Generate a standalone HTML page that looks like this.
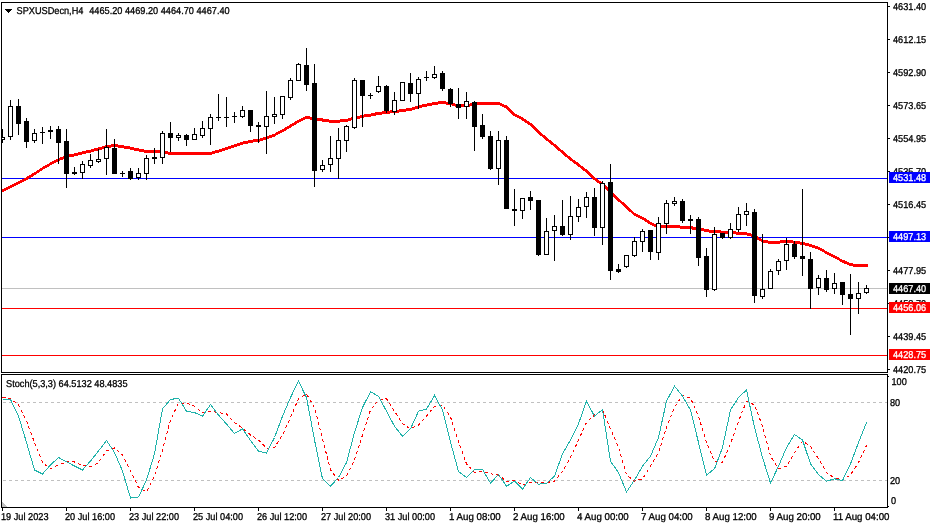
<!DOCTYPE html><html><head><meta charset="utf-8"><title>SPXUSDecn,H4</title><style>
html,body{margin:0;padding:0;background:#fff;overflow:hidden}svg{display:block}text{font-family:"Liberation Sans",sans-serif;font-size:10px;fill:#000;stroke:#000;stroke-width:0.3px}
.w{fill:#fff}</style></head><body>
<svg width="933" height="528" viewBox="0 0 933 528">
<rect width="933" height="528" fill="#fff"/>
<g shape-rendering="crispEdges">
<rect x="2" y="288" width="885" height="1" fill="#c0c0c0"/>
<rect x="2" y="178" width="886" height="1" fill="#00f"/>
<rect x="2" y="237" width="886" height="1" fill="#00f"/>
<rect x="2" y="308" width="886" height="1" fill="#f00"/>
<rect x="2" y="355" width="886" height="1" fill="#f00"/>
<path d="M2 189h2v3h-2zM4 188h2v3h-2zM6 187h2v3h-2zM8 186h2v3h-2zM10 185h2v3h-2zM12 184h2v3h-2zM14 183h2v3h-2zM16 182h2v3h-2zM18 181h2v3h-2zM20 180h2v3h-2zM22 179h2v3h-2zM24 178h2v3h-2zM26 177h1v3h-1zM27 176h1v4h-1zM28 176h1v3h-1zM29 175h2v3h-2zM31 174h1v3h-1zM32 173h1v4h-1zM33 173h1v3h-1zM34 172h2v3h-2zM36 171h1v3h-1zM37 170h2v3h-2zM39 169h1v3h-1zM40 168h2v3h-2zM42 167h1v3h-1zM43 166h2v3h-2zM45 165h2v3h-2zM47 164h2v3h-2zM49 163h1v3h-1zM50 162h2v3h-2zM52 161h2v3h-2zM54 160h2v3h-2zM56 159h2v3h-2zM58 158h2v3h-2zM60 157h3v3h-3zM63 156h2v3h-2zM65 155h4v3h-4zM69 154h5v3h-5zM74 153h4v3h-4zM78 152h4v3h-4zM82 151h4v3h-4zM86 150h5v3h-5zM91 149h3v3h-3zM94 148h4v3h-4zM98 147h4v3h-4zM102 146h3v3h-3zM105 145h6v3h-6zM111 144h7v3h-7zM118 145h6v3h-6zM124 146h6v3h-6zM130 147h4v3h-4zM134 148h5v3h-5zM139 149h5v3h-5zM144 150h10v3h-10zM154 150h1v4h-1zM155 150h9v3h-9zM164 151h4v3h-4zM168 152h44v3h-44zM212 151h3v3h-3zM215 150h4v3h-4zM219 149h3v3h-3zM222 148h3v3h-3zM225 147h3v3h-3zM228 146h3v3h-3zM231 145h3v3h-3zM234 144h3v3h-3zM237 143h3v3h-3zM240 142h3v3h-3zM243 141h5v3h-5zM248 140h5v3h-5zM253 139h7v3h-7zM260 138h3v3h-3zM263 137h3v3h-3zM266 136h1v4h-1zM267 136h2v3h-2zM269 135h3v3h-3zM272 134h3v3h-3zM275 133h1v3h-1zM276 132h2v3h-2zM278 131h2v3h-2zM280 130h2v3h-2zM282 129h2v3h-2zM284 128h1v3h-1zM285 127h1v4h-1zM286 127h1v3h-1zM287 126h2v3h-2zM289 125h1v3h-1zM290 124h1v4h-1zM291 124h1v3h-1zM292 123h2v3h-2zM294 122h1v3h-1zM295 121h1v4h-1zM296 121h1v3h-1zM297 120h2v3h-2zM299 119h2v3h-2zM301 118h2v3h-2zM303 117h2v3h-2zM305 116h5v3h-5zM310 117h6v3h-6zM316 118h6v3h-6zM322 118h1v4h-1zM323 119h6v3h-6zM329 120h11v3h-11zM340 119h8v3h-8zM348 118h3v3h-3zM351 117h4v3h-4zM355 116h5v3h-5zM360 115h4v3h-4zM364 114h7v3h-7zM371 113h4v3h-4zM375 112h1v4h-1zM376 112h6v3h-6zM382 111h8v3h-8zM390 110h9v3h-9zM399 109h7v3h-7zM406 108h6v3h-6zM412 107h3v3h-3zM415 106h3v3h-3zM418 105h4v3h-4zM422 104h5v3h-5zM427 103h5v3h-5zM432 102h6v3h-6zM438 101h8v3h-8zM446 102h6v3h-6zM452 103h3v3h-3zM455 104h11v3h-11zM466 104h1v4h-1zM467 104h3v3h-3zM470 103h3v3h-3zM473 102h27v3h-27zM500 103h2v3h-2zM502 104h2v3h-2zM504 105h2v3h-2zM506 105h1v4h-1zM507 106h1v4h-1zM508 107h1v4h-1zM509 108h1v4h-1zM510 109h1v4h-1zM511 110h1v4h-1zM512 111h1v4h-1zM513 112h1v4h-1zM514 113h1v3h-1zM515 114h2v3h-2zM517 115h2v3h-2zM519 116h2v3h-2zM521 117h1v3h-1zM522 117h1v4h-1zM523 118h1v3h-1zM524 119h1v3h-1zM525 119h1v4h-1zM526 120h1v3h-1zM527 121h1v3h-1zM528 121h1v4h-1zM529 122h1v3h-1zM530 123h1v3h-1zM531 123h1v4h-1zM532 124h1v4h-1zM533 125h1v4h-1zM534 126h1v4h-1zM535 127h1v4h-1zM536 128h1v4h-1zM537 129h1v4h-1zM538 130h1v4h-1zM539 131h1v4h-1zM540 132h1v4h-1zM541 133h1v3h-1zM542 134h1v3h-1zM543 135h1v3h-1zM544 135h1v4h-1zM545 136h1v4h-1zM546 137h1v4h-1zM547 138h1v3h-1zM548 139h1v3h-1zM549 140h1v3h-1zM550 140h1v4h-1zM551 141h1v4h-1zM552 142h1v3h-1zM553 143h1v3h-1zM554 144h1v3h-1zM555 144h1v4h-1zM556 145h1v4h-1zM557 146h1v4h-1zM558 147h1v4h-1zM559 148h1v3h-1zM560 149h1v3h-1zM561 150h1v3h-1zM562 150h1v4h-1zM563 151h1v4h-1zM564 152h1v4h-1zM565 153h1v4h-1zM566 154h1v3h-1zM567 155h1v3h-1zM568 156h1v3h-1zM569 156h1v4h-1zM570 157h1v4h-1zM571 158h1v3h-1zM572 159h1v3h-1zM573 160h1v3h-1zM574 160h1v4h-1zM575 161h1v3h-1zM576 162h1v3h-1zM577 162h1v4h-1zM578 163h1v4h-1zM579 164h1v3h-1zM580 165h1v3h-1zM581 166h1v3h-1zM582 166h1v4h-1zM583 167h1v4h-1zM584 168h1v3h-1zM585 169h1v3h-1zM586 169h1v4h-1zM587 170h1v4h-1zM588 171h1v4h-1zM589 172h1v4h-1zM590 173h1v4h-1zM591 174h1v4h-1zM592 175h1v4h-1zM593 176h1v4h-1zM594 177h1v3h-1zM595 178h1v3h-1zM596 178h1v4h-1zM597 179h1v4h-1zM598 180h1v3h-1zM599 181h1v3h-1zM600 181h1v4h-1zM601 182h1v4h-1zM602 183h1v3h-1zM603 184h1v3h-1zM604 185h1v3h-1zM605 185h1v4h-1zM606 186h1v4h-1zM607 187h1v4h-1zM608 188h1v4h-1zM609 189h1v4h-1zM610 190h1v4h-1zM611 191h1v4h-1zM612 192h1v4h-1zM613 193h1v4h-1zM614 194h1v4h-1zM615 195h1v4h-1zM616 196h1v4h-1zM617 197h1v4h-1zM618 198h1v4h-1zM619 199h1v3h-1zM620 200h1v3h-1zM621 201h1v3h-1zM622 202h1v3h-1zM623 202h1v4h-1zM624 203h1v4h-1zM625 204h1v4h-1zM626 205h1v4h-1zM627 206h1v4h-1zM628 207h1v4h-1zM629 208h1v4h-1zM630 209h1v3h-1zM631 210h1v3h-1zM632 211h1v3h-1zM633 212h1v3h-1zM634 213h2v3h-2zM636 214h2v3h-2zM638 215h2v3h-2zM640 216h2v3h-2zM642 217h2v3h-2zM644 218h1v3h-1zM645 218h1v4h-1zM646 219h1v3h-1zM647 220h1v3h-1zM648 220h1v4h-1zM649 221h1v3h-1zM650 222h2v3h-2zM652 223h2v3h-2zM654 224h3v3h-3zM657 225h23v3h-23zM680 226h12v3h-12zM692 226h1v4h-1zM693 227h8v3h-8zM701 228h3v3h-3zM704 229h5v3h-5zM709 230h12v3h-12zM721 231h15v3h-15zM736 232h11v3h-11zM747 233h4v3h-4zM751 234h3v3h-3zM754 234h1v4h-1zM755 235h1v3h-1zM756 236h1v3h-1zM757 236h1v4h-1zM758 237h1v3h-1zM759 238h2v3h-2zM761 239h1v3h-1zM762 240h6v3h-6zM768 241h12v3h-12zM780 240h13v3h-13zM793 241h7v3h-7zM800 242h5v3h-5zM805 243h4v3h-4zM809 244h3v3h-3zM812 245h3v3h-3zM815 246h3v3h-3zM818 247h2v3h-2zM820 248h2v3h-2zM822 249h2v3h-2zM824 250h1v3h-1zM825 251h2v3h-2zM827 252h2v3h-2zM829 253h2v3h-2zM831 254h2v3h-2zM833 255h2v3h-2zM835 256h2v3h-2zM837 257h2v3h-2zM839 258h1v3h-1zM840 259h2v3h-2zM842 260h2v3h-2zM844 260h1v4h-1zM845 261h2v3h-2zM847 262h2v3h-2zM849 263h4v3h-4zM853 264h15v3h-15z" fill="#f00"/>
<clipPath id="c"><rect x="2" y="3" width="885" height="369"/></clipPath><g clip-path="url(#c)">
<rect x="2" y="129" width="1" height="14" fill="#000"/>
<rect x="0" y="137" width="5" height="3" fill="#000"/>
<rect x="1" y="138" width="3" height="1" fill="#fff"/>
<rect x="10" y="100" width="1" height="40" fill="#000"/>
<rect x="8" y="106" width="5" height="31" fill="#000"/>
<rect x="9" y="107" width="3" height="29" fill="#fff"/>
<rect x="18" y="99" width="1" height="36" fill="#000"/>
<rect x="16" y="106" width="5" height="18" fill="#000"/>
<rect x="26" y="118" width="1" height="30" fill="#000"/>
<rect x="24" y="121" width="5" height="21" fill="#000"/>
<rect x="34" y="129" width="1" height="14" fill="#000"/>
<rect x="32" y="133" width="5" height="8" fill="#000"/>
<rect x="33" y="134" width="3" height="6" fill="#fff"/>
<rect x="42" y="127" width="1" height="17" fill="#000"/>
<rect x="40" y="132" width="5" height="1" fill="#000"/>
<rect x="50" y="126" width="1" height="13" fill="#000"/>
<rect x="48" y="130" width="5" height="2" fill="#000"/>
<rect x="58" y="126" width="1" height="38" fill="#000"/>
<rect x="56" y="129" width="5" height="14" fill="#000"/>
<rect x="66" y="129" width="1" height="59" fill="#000"/>
<rect x="64" y="141" width="5" height="33" fill="#000"/>
<rect x="74" y="167" width="1" height="8" fill="#000"/>
<rect x="72" y="172" width="5" height="2" fill="#000"/>
<rect x="82" y="161" width="1" height="18" fill="#000"/>
<rect x="80" y="164" width="5" height="9" fill="#000"/>
<rect x="81" y="165" width="3" height="7" fill="#fff"/>
<rect x="90" y="154" width="1" height="14" fill="#000"/>
<rect x="88" y="160" width="5" height="6" fill="#000"/>
<rect x="89" y="161" width="3" height="4" fill="#fff"/>
<rect x="98" y="149" width="1" height="14" fill="#000"/>
<rect x="96" y="159" width="5" height="3" fill="#000"/>
<rect x="97" y="160" width="3" height="1" fill="#fff"/>
<rect x="106" y="129" width="1" height="46" fill="#000"/>
<rect x="104" y="147" width="5" height="12" fill="#000"/>
<rect x="105" y="148" width="3" height="10" fill="#fff"/>
<rect x="114" y="139" width="1" height="35" fill="#000"/>
<rect x="112" y="148" width="5" height="26" fill="#000"/>
<rect x="122" y="171" width="1" height="6" fill="#000"/>
<rect x="120" y="173" width="5" height="1" fill="#000"/>
<rect x="130" y="168" width="1" height="12" fill="#000"/>
<rect x="128" y="171" width="5" height="8" fill="#000"/>
<rect x="138" y="168" width="1" height="12" fill="#000"/>
<rect x="136" y="173" width="5" height="5" fill="#000"/>
<rect x="137" y="174" width="3" height="3" fill="#fff"/>
<rect x="146" y="155" width="1" height="25" fill="#000"/>
<rect x="144" y="158" width="5" height="16" fill="#000"/>
<rect x="145" y="159" width="3" height="14" fill="#fff"/>
<rect x="154" y="148" width="1" height="16" fill="#000"/>
<rect x="152" y="157" width="5" height="2" fill="#000"/>
<rect x="162" y="131" width="1" height="33" fill="#000"/>
<rect x="160" y="133" width="5" height="25" fill="#000"/>
<rect x="161" y="134" width="3" height="23" fill="#fff"/>
<rect x="170" y="122" width="1" height="30" fill="#000"/>
<rect x="168" y="133" width="5" height="5" fill="#000"/>
<rect x="178" y="133" width="1" height="8" fill="#000"/>
<rect x="176" y="135" width="5" height="3" fill="#000"/>
<rect x="177" y="136" width="3" height="1" fill="#fff"/>
<rect x="186" y="134" width="1" height="12" fill="#000"/>
<rect x="184" y="135" width="5" height="5" fill="#000"/>
<rect x="194" y="128" width="1" height="12" fill="#000"/>
<rect x="192" y="134" width="5" height="6" fill="#000"/>
<rect x="193" y="135" width="3" height="4" fill="#fff"/>
<rect x="202" y="121" width="1" height="17" fill="#000"/>
<rect x="200" y="128" width="5" height="8" fill="#000"/>
<rect x="201" y="129" width="3" height="6" fill="#fff"/>
<rect x="210" y="114" width="1" height="31" fill="#000"/>
<rect x="208" y="117" width="5" height="12" fill="#000"/>
<rect x="209" y="118" width="3" height="10" fill="#fff"/>
<rect x="218" y="94" width="1" height="27" fill="#000"/>
<rect x="216" y="117" width="5" height="1" fill="#000"/>
<rect x="226" y="97" width="1" height="30" fill="#000"/>
<rect x="224" y="117" width="5" height="1" fill="#000"/>
<rect x="234" y="112" width="1" height="11" fill="#000"/>
<rect x="232" y="116" width="5" height="1" fill="#000"/>
<rect x="242" y="106" width="1" height="12" fill="#000"/>
<rect x="240" y="110" width="5" height="7" fill="#000"/>
<rect x="241" y="111" width="3" height="5" fill="#fff"/>
<rect x="250" y="110" width="1" height="22" fill="#000"/>
<rect x="248" y="110" width="5" height="16" fill="#000"/>
<rect x="258" y="122" width="1" height="21" fill="#000"/>
<rect x="256" y="125" width="5" height="2" fill="#000"/>
<rect x="266" y="91" width="1" height="63" fill="#000"/>
<rect x="264" y="116" width="5" height="11" fill="#000"/>
<rect x="265" y="117" width="3" height="9" fill="#fff"/>
<rect x="274" y="97" width="1" height="27" fill="#000"/>
<rect x="272" y="114" width="5" height="3" fill="#000"/>
<rect x="273" y="115" width="3" height="1" fill="#fff"/>
<rect x="282" y="96" width="1" height="23" fill="#000"/>
<rect x="280" y="96" width="5" height="19" fill="#000"/>
<rect x="281" y="97" width="3" height="17" fill="#fff"/>
<rect x="290" y="78" width="1" height="22" fill="#000"/>
<rect x="288" y="80" width="5" height="18" fill="#000"/>
<rect x="289" y="81" width="3" height="16" fill="#fff"/>
<rect x="298" y="63" width="1" height="18" fill="#000"/>
<rect x="296" y="64" width="5" height="17" fill="#000"/>
<rect x="297" y="65" width="3" height="15" fill="#fff"/>
<rect x="306" y="48" width="1" height="43" fill="#000"/>
<rect x="304" y="65" width="5" height="20" fill="#000"/>
<rect x="314" y="64" width="1" height="123" fill="#000"/>
<rect x="312" y="83" width="5" height="88" fill="#000"/>
<rect x="322" y="160" width="1" height="12" fill="#000"/>
<rect x="320" y="165" width="5" height="5" fill="#000"/>
<rect x="321" y="166" width="3" height="3" fill="#fff"/>
<rect x="330" y="136" width="1" height="36" fill="#000"/>
<rect x="328" y="158" width="5" height="7" fill="#000"/>
<rect x="329" y="159" width="3" height="5" fill="#fff"/>
<rect x="338" y="128" width="1" height="51" fill="#000"/>
<rect x="336" y="140" width="5" height="19" fill="#000"/>
<rect x="337" y="141" width="3" height="17" fill="#fff"/>
<rect x="346" y="125" width="1" height="27" fill="#000"/>
<rect x="344" y="126" width="5" height="15" fill="#000"/>
<rect x="345" y="127" width="3" height="13" fill="#fff"/>
<rect x="354" y="78" width="1" height="51" fill="#000"/>
<rect x="352" y="80" width="5" height="48" fill="#000"/>
<rect x="353" y="81" width="3" height="46" fill="#fff"/>
<rect x="362" y="80" width="1" height="47" fill="#000"/>
<rect x="360" y="80" width="5" height="16" fill="#000"/>
<rect x="370" y="93" width="1" height="6" fill="#000"/>
<rect x="368" y="95" width="5" height="1" fill="#000"/>
<rect x="378" y="76" width="1" height="17" fill="#000"/>
<rect x="376" y="86" width="5" height="6" fill="#000"/>
<rect x="377" y="87" width="3" height="4" fill="#fff"/>
<rect x="386" y="85" width="1" height="28" fill="#000"/>
<rect x="384" y="86" width="5" height="25" fill="#000"/>
<rect x="394" y="92" width="1" height="23" fill="#000"/>
<rect x="392" y="100" width="5" height="12" fill="#000"/>
<rect x="393" y="101" width="3" height="10" fill="#fff"/>
<rect x="402" y="82" width="1" height="19" fill="#000"/>
<rect x="400" y="82" width="5" height="19" fill="#000"/>
<rect x="401" y="83" width="3" height="17" fill="#fff"/>
<rect x="410" y="73" width="1" height="29" fill="#000"/>
<rect x="408" y="83" width="5" height="11" fill="#000"/>
<rect x="418" y="77" width="1" height="32" fill="#000"/>
<rect x="416" y="79" width="5" height="15" fill="#000"/>
<rect x="417" y="80" width="3" height="13" fill="#fff"/>
<rect x="426" y="71" width="1" height="10" fill="#000"/>
<rect x="424" y="77" width="5" height="1" fill="#000"/>
<rect x="434" y="66" width="1" height="13" fill="#000"/>
<rect x="432" y="74" width="5" height="4" fill="#000"/>
<rect x="433" y="75" width="3" height="2" fill="#fff"/>
<rect x="442" y="71" width="1" height="20" fill="#000"/>
<rect x="440" y="73" width="5" height="16" fill="#000"/>
<rect x="450" y="88" width="1" height="19" fill="#000"/>
<rect x="448" y="89" width="5" height="15" fill="#000"/>
<rect x="458" y="88" width="1" height="31" fill="#000"/>
<rect x="456" y="104" width="5" height="4" fill="#000"/>
<rect x="466" y="92" width="1" height="27" fill="#000"/>
<rect x="464" y="101" width="5" height="6" fill="#000"/>
<rect x="465" y="102" width="3" height="4" fill="#fff"/>
<rect x="474" y="101" width="1" height="50" fill="#000"/>
<rect x="472" y="102" width="5" height="25" fill="#000"/>
<rect x="482" y="114" width="1" height="25" fill="#000"/>
<rect x="480" y="125" width="5" height="12" fill="#000"/>
<rect x="490" y="131" width="1" height="39" fill="#000"/>
<rect x="488" y="136" width="5" height="33" fill="#000"/>
<rect x="498" y="131" width="1" height="54" fill="#000"/>
<rect x="496" y="140" width="5" height="29" fill="#000"/>
<rect x="497" y="141" width="3" height="27" fill="#fff"/>
<rect x="506" y="136" width="1" height="73" fill="#000"/>
<rect x="504" y="140" width="5" height="69" fill="#000"/>
<rect x="514" y="189" width="1" height="37" fill="#000"/>
<rect x="512" y="209" width="5" height="2" fill="#000"/>
<rect x="522" y="198" width="1" height="21" fill="#000"/>
<rect x="520" y="198" width="5" height="13" fill="#000"/>
<rect x="521" y="199" width="3" height="11" fill="#fff"/>
<rect x="530" y="191" width="1" height="19" fill="#000"/>
<rect x="528" y="197" width="5" height="4" fill="#000"/>
<rect x="538" y="200" width="1" height="56" fill="#000"/>
<rect x="536" y="200" width="5" height="55" fill="#000"/>
<rect x="546" y="218" width="1" height="37" fill="#000"/>
<rect x="544" y="231" width="5" height="24" fill="#000"/>
<rect x="545" y="232" width="3" height="22" fill="#fff"/>
<rect x="554" y="215" width="1" height="46" fill="#000"/>
<rect x="552" y="226" width="5" height="5" fill="#000"/>
<rect x="553" y="227" width="3" height="3" fill="#fff"/>
<rect x="562" y="200" width="1" height="36" fill="#000"/>
<rect x="560" y="226" width="5" height="9" fill="#000"/>
<rect x="570" y="196" width="1" height="44" fill="#000"/>
<rect x="568" y="216" width="5" height="19" fill="#000"/>
<rect x="569" y="217" width="3" height="17" fill="#fff"/>
<rect x="578" y="199" width="1" height="23" fill="#000"/>
<rect x="576" y="207" width="5" height="10" fill="#000"/>
<rect x="577" y="208" width="3" height="8" fill="#fff"/>
<rect x="586" y="192" width="1" height="26" fill="#000"/>
<rect x="584" y="197" width="5" height="10" fill="#000"/>
<rect x="585" y="198" width="3" height="8" fill="#fff"/>
<rect x="594" y="188" width="1" height="48" fill="#000"/>
<rect x="592" y="197" width="5" height="31" fill="#000"/>
<rect x="602" y="181" width="1" height="64" fill="#000"/>
<rect x="600" y="183" width="5" height="45" fill="#000"/>
<rect x="601" y="184" width="3" height="43" fill="#fff"/>
<rect x="610" y="164" width="1" height="116" fill="#000"/>
<rect x="608" y="182" width="5" height="89" fill="#000"/>
<rect x="618" y="264" width="1" height="9" fill="#000"/>
<rect x="616" y="269" width="5" height="3" fill="#000"/>
<rect x="626" y="255" width="1" height="13" fill="#000"/>
<rect x="624" y="255" width="5" height="12" fill="#000"/>
<rect x="625" y="256" width="3" height="10" fill="#fff"/>
<rect x="634" y="237" width="1" height="20" fill="#000"/>
<rect x="632" y="241" width="5" height="15" fill="#000"/>
<rect x="633" y="242" width="3" height="13" fill="#fff"/>
<rect x="642" y="229" width="1" height="23" fill="#000"/>
<rect x="640" y="231" width="5" height="11" fill="#000"/>
<rect x="641" y="232" width="3" height="9" fill="#fff"/>
<rect x="650" y="230" width="1" height="30" fill="#000"/>
<rect x="648" y="230" width="5" height="22" fill="#000"/>
<rect x="658" y="217" width="1" height="43" fill="#000"/>
<rect x="656" y="223" width="5" height="30" fill="#000"/>
<rect x="657" y="224" width="3" height="28" fill="#fff"/>
<rect x="666" y="200" width="1" height="34" fill="#000"/>
<rect x="664" y="203" width="5" height="21" fill="#000"/>
<rect x="665" y="204" width="3" height="19" fill="#fff"/>
<rect x="674" y="197" width="1" height="9" fill="#000"/>
<rect x="672" y="201" width="5" height="3" fill="#000"/>
<rect x="673" y="202" width="3" height="1" fill="#fff"/>
<rect x="682" y="199" width="1" height="24" fill="#000"/>
<rect x="680" y="201" width="5" height="20" fill="#000"/>
<rect x="690" y="215" width="1" height="19" fill="#000"/>
<rect x="688" y="219" width="5" height="2" fill="#000"/>
<rect x="698" y="217" width="1" height="49" fill="#000"/>
<rect x="696" y="219" width="5" height="39" fill="#000"/>
<rect x="706" y="248" width="1" height="49" fill="#000"/>
<rect x="704" y="256" width="5" height="34" fill="#000"/>
<rect x="714" y="227" width="1" height="64" fill="#000"/>
<rect x="712" y="234" width="5" height="56" fill="#000"/>
<rect x="713" y="235" width="3" height="54" fill="#fff"/>
<rect x="722" y="233" width="1" height="6" fill="#000"/>
<rect x="720" y="233" width="5" height="5" fill="#000"/>
<rect x="730" y="223" width="1" height="16" fill="#000"/>
<rect x="728" y="229" width="5" height="9" fill="#000"/>
<rect x="729" y="230" width="3" height="7" fill="#fff"/>
<rect x="738" y="207" width="1" height="25" fill="#000"/>
<rect x="736" y="214" width="5" height="16" fill="#000"/>
<rect x="737" y="215" width="3" height="14" fill="#fff"/>
<rect x="746" y="203" width="1" height="23" fill="#000"/>
<rect x="744" y="211" width="5" height="4" fill="#000"/>
<rect x="745" y="212" width="3" height="2" fill="#fff"/>
<rect x="754" y="209" width="1" height="94" fill="#000"/>
<rect x="752" y="212" width="5" height="84" fill="#000"/>
<rect x="762" y="234" width="1" height="65" fill="#000"/>
<rect x="760" y="289" width="5" height="8" fill="#000"/>
<rect x="761" y="290" width="3" height="6" fill="#fff"/>
<rect x="770" y="269" width="1" height="20" fill="#000"/>
<rect x="768" y="271" width="5" height="18" fill="#000"/>
<rect x="769" y="272" width="3" height="16" fill="#fff"/>
<rect x="778" y="259" width="1" height="16" fill="#000"/>
<rect x="776" y="261" width="5" height="10" fill="#000"/>
<rect x="777" y="262" width="3" height="8" fill="#fff"/>
<rect x="786" y="238" width="1" height="32" fill="#000"/>
<rect x="784" y="244" width="5" height="17" fill="#000"/>
<rect x="785" y="245" width="3" height="15" fill="#fff"/>
<rect x="794" y="241" width="1" height="18" fill="#000"/>
<rect x="792" y="244" width="5" height="13" fill="#000"/>
<rect x="802" y="189" width="1" height="87" fill="#000"/>
<rect x="800" y="256" width="5" height="3" fill="#000"/>
<rect x="810" y="252" width="1" height="57" fill="#000"/>
<rect x="808" y="259" width="5" height="30" fill="#000"/>
<rect x="818" y="275" width="1" height="20" fill="#000"/>
<rect x="816" y="278" width="5" height="10" fill="#000"/>
<rect x="817" y="279" width="3" height="8" fill="#fff"/>
<rect x="826" y="270" width="1" height="22" fill="#000"/>
<rect x="824" y="278" width="5" height="12" fill="#000"/>
<rect x="834" y="273" width="1" height="21" fill="#000"/>
<rect x="832" y="283" width="5" height="6" fill="#000"/>
<rect x="833" y="284" width="3" height="4" fill="#fff"/>
<rect x="842" y="282" width="1" height="23" fill="#000"/>
<rect x="840" y="282" width="5" height="13" fill="#000"/>
<rect x="850" y="274" width="1" height="61" fill="#000"/>
<rect x="848" y="294" width="5" height="5" fill="#000"/>
<rect x="858" y="282" width="1" height="32" fill="#000"/>
<rect x="856" y="293" width="5" height="6" fill="#000"/>
<rect x="857" y="294" width="3" height="4" fill="#fff"/>
<rect x="866" y="285" width="1" height="9" fill="#000"/>
<rect x="864" y="288" width="5" height="5" fill="#000"/>
<rect x="865" y="289" width="3" height="3" fill="#fff"/>
</g>
<line x1="3" y1="402.5" x2="887" y2="402.5" stroke="#c0c0c0" stroke-width="1" stroke-dasharray="3 3"/>
<line x1="3" y1="480.5" x2="887" y2="480.5" stroke="#c0c0c0" stroke-width="1" stroke-dasharray="3 3"/>
<polyline points="2.5,397.5 10.5,398.5 18.5,405.0 26.5,421.0 34.5,442.5 42.5,462.5 50.5,468.8 58.5,465.0 66.5,461.8 74.5,462.0 82.5,465.5 90.5,466.8 98.5,462.5 106.5,451.0 114.5,448.0 122.5,455.0 130.5,471.0 138.5,487.5 146.5,491.8 154.5,476.0 162.5,450.0 170.5,420.0 178.5,403.0 186.5,403.0 194.5,406.2 202.5,412.5 210.5,411.2 218.5,412.5 226.5,414.0 234.5,422.5 242.5,428.2 250.5,435.0 258.5,440.0 266.5,448.2 274.5,447.5 282.5,435.0 290.5,417.5 298.5,398.8 306.5,393.8 314.5,407.5 322.5,438.8 330.5,470.0 338.5,480.0 346.5,476.2 354.5,460.0 362.5,435.0 370.5,410.0 378.5,400.0 386.5,398.8 394.5,411.2 402.5,423.8 410.5,428.8 418.5,425.0 426.5,416.2 434.5,406.2 442.5,405.0 450.5,417.0 458.5,441.5 466.5,463.8 474.5,472.5 482.5,471.2 490.5,473.8 498.5,475.0 506.5,481.2 514.5,480.5 522.5,485.0 530.5,482.5 538.5,483.0 546.5,482.5 554.5,481.2 562.5,471.2 570.5,457.5 578.5,440.0 586.5,422.5 594.5,415.0 602.5,409.5 610.5,428.8 618.5,447.5 626.5,475.0 634.5,481.2 642.5,478.8 650.5,466.2 658.5,452.5 666.5,427.5 674.5,407.0 682.5,395.5 690.5,398.0 698.5,416.2 706.5,442.5 714.5,461.2 722.5,462.5 730.5,443.8 738.5,421.2 746.5,401.2 754.5,405.0 762.5,426.2 770.5,456.2 778.5,468.8 786.5,466.2 794.5,452.5 802.5,441.2 810.5,446.2 818.5,458.8 826.5,472.5 834.5,478.0 842.5,480.0 850.5,475.0 858.5,462.5 866.5,445.5" fill="none" stroke="#f00" stroke-width="1" stroke-dasharray="3 3"/>
<polyline points="2.5,399.5 10.5,399.5 18.5,416.0 26.5,442.5 34.5,470.0 42.5,474.0 50.5,465.0 58.5,457.5 66.5,461.8 74.5,466.0 82.5,470.0 90.5,461.0 98.5,451.0 106.5,440.5 114.5,452.5 122.5,471.0 130.5,498.0 138.5,497.0 146.5,480.0 154.5,453.8 162.5,408.8 170.5,399.5 178.5,398.2 186.5,411.2 194.5,412.5 202.5,416.2 210.5,404.5 218.5,415.0 226.5,424.0 234.5,433.5 242.5,428.8 250.5,440.5 258.5,451.2 266.5,453.2 274.5,437.5 282.5,416.2 290.5,397.5 298.5,381.2 306.5,397.5 314.5,440.0 322.5,478.8 330.5,486.2 338.5,477.5 346.5,462.5 354.5,432.5 362.5,407.5 370.5,391.8 378.5,396.2 386.5,411.2 394.5,426.2 402.5,436.2 410.5,428.8 418.5,411.2 426.5,409.2 434.5,395.5 442.5,410.0 450.5,442.0 458.5,471.5 466.5,477.5 474.5,469.5 482.5,469.5 490.5,483.2 498.5,474.5 506.5,486.2 514.5,481.2 522.5,489.2 530.5,477.5 538.5,484.2 546.5,483.2 554.5,476.2 562.5,453.8 570.5,440.0 578.5,423.8 586.5,401.2 594.5,416.2 602.5,409.5 610.5,461.2 618.5,472.5 626.5,492.0 634.5,480.0 642.5,466.2 650.5,456.2 658.5,437.5 666.5,401.2 674.5,386.2 682.5,396.2 690.5,410.0 698.5,442.5 706.5,475.0 714.5,468.8 722.5,447.5 730.5,410.0 738.5,397.5 746.5,390.0 754.5,427.5 762.5,457.5 770.5,483.0 778.5,466.2 786.5,447.5 794.5,434.5 802.5,440.0 810.5,463.8 818.5,474.5 826.5,481.2 834.5,478.8 842.5,480.5 850.5,463.8 858.5,442.5 866.5,422.5" fill="none" stroke="#20b2aa" stroke-width="1"/>
<rect x="1" y="2" width="887" height="1" fill="#000"/>
<rect x="1" y="372" width="887" height="1" fill="#000"/>
<rect x="1" y="2" width="1" height="371" fill="#000"/>
<rect x="887" y="2" width="1" height="371" fill="#000"/>
<rect x="1" y="374" width="887" height="1" fill="#000"/>
<rect x="1" y="507" width="887" height="1" fill="#000"/>
<rect x="1" y="374" width="1" height="134" fill="#000"/>
<rect x="887" y="374" width="1" height="134" fill="#000"/>
<rect x="888" y="6" width="2" height="1" fill="#000"/>
<rect x="888" y="39" width="2" height="1" fill="#000"/>
<rect x="888" y="72" width="2" height="1" fill="#000"/>
<rect x="888" y="105" width="2" height="1" fill="#000"/>
<rect x="888" y="138" width="2" height="1" fill="#000"/>
<rect x="888" y="171" width="2" height="1" fill="#000"/>
<rect x="888" y="204" width="2" height="1" fill="#000"/>
<rect x="888" y="237" width="2" height="1" fill="#000"/>
<rect x="888" y="270" width="2" height="1" fill="#000"/>
<rect x="888" y="303" width="2" height="1" fill="#000"/>
<rect x="888" y="336" width="2" height="1" fill="#000"/>
<rect x="888" y="369" width="2" height="1" fill="#000"/>
<rect x="888" y="376" width="1" height="1" fill="#000"/>
<rect x="888" y="506" width="1" height="1" fill="#000"/>
<rect x="2" y="508" width="1" height="3" fill="#000"/>
<rect x="66" y="508" width="1" height="3" fill="#000"/>
<rect x="130" y="508" width="1" height="3" fill="#000"/>
<rect x="194" y="508" width="1" height="3" fill="#000"/>
<rect x="258" y="508" width="1" height="3" fill="#000"/>
<rect x="322" y="508" width="1" height="3" fill="#000"/>
<rect x="386" y="508" width="1" height="3" fill="#000"/>
<rect x="450" y="508" width="1" height="3" fill="#000"/>
<rect x="514" y="508" width="1" height="3" fill="#000"/>
<rect x="578" y="508" width="1" height="3" fill="#000"/>
<rect x="642" y="508" width="1" height="3" fill="#000"/>
<rect x="706" y="508" width="1" height="3" fill="#000"/>
<rect x="770" y="508" width="1" height="3" fill="#000"/>
<rect x="834" y="508" width="1" height="3" fill="#000"/>
<polygon points="2,502 2,507 7,507" fill="#c0c0c0"/>
<polygon points="5,9 12,9 8.5,13" fill="#000"/>
</g>
<text transform="translate(893,10) rotate(0.03) scale(0.9200,1)" xml:space="preserve">4631.40</text>
<text transform="translate(893,43) rotate(0.03) scale(0.9200,1)" xml:space="preserve">4612.15</text>
<text transform="translate(893,76) rotate(0.03) scale(0.9200,1)" xml:space="preserve">4592.90</text>
<text transform="translate(893,109) rotate(0.03) scale(0.9200,1)" xml:space="preserve">4573.65</text>
<text transform="translate(893,142) rotate(0.03) scale(0.9200,1)" xml:space="preserve">4554.95</text>
<text transform="translate(893,175) rotate(0.03) scale(0.9200,1)" xml:space="preserve">4535.70</text>
<text transform="translate(893,208) rotate(0.03) scale(0.9200,1)" xml:space="preserve">4516.45</text>
<text transform="translate(893,241) rotate(0.03) scale(0.9200,1)" xml:space="preserve">4497.20</text>
<text transform="translate(893,274) rotate(0.03) scale(0.9200,1)" xml:space="preserve">4477.95</text>
<text transform="translate(893,307) rotate(0.03) scale(0.9200,1)" xml:space="preserve">4458.70</text>
<text transform="translate(893,340) rotate(0.03) scale(0.9200,1)" xml:space="preserve">4439.45</text>
<text transform="translate(893,373) rotate(0.03) scale(0.9200,1)" xml:space="preserve">4420.75</text>
<rect x="889" y="172" width="41" height="11" fill="#00f" shape-rendering="crispEdges"/>
<text transform="translate(893,181) rotate(0.03) scale(0.9200,1)" xml:space="preserve" style="fill:#fff;stroke:#fff">4531.48</text>
<rect x="889" y="231" width="41" height="11" fill="#00f" shape-rendering="crispEdges"/>
<text transform="translate(893,240) rotate(0.03) scale(0.9200,1)" xml:space="preserve" style="fill:#fff;stroke:#fff">4497.13</text>
<rect x="889" y="283" width="41" height="11" fill="#000" shape-rendering="crispEdges"/>
<text transform="translate(893,292) rotate(0.03) scale(0.9200,1)" xml:space="preserve" style="fill:#fff;stroke:#fff">4467.40</text>
<rect x="889" y="302" width="41" height="11" fill="#f00" shape-rendering="crispEdges"/>
<text transform="translate(893,311) rotate(0.03) scale(0.9200,1)" xml:space="preserve" style="fill:#fff;stroke:#fff">4456.06</text>
<rect x="889" y="349" width="41" height="11" fill="#f00" shape-rendering="crispEdges"/>
<text transform="translate(893,358) rotate(0.03) scale(0.9200,1)" xml:space="preserve" style="fill:#fff;stroke:#fff">4428.75</text>
<text transform="translate(891.5,385) rotate(0.03) scale(0.9200,1)" xml:space="preserve">100</text>
<text transform="translate(890,406) rotate(0.03) scale(0.9200,1)" xml:space="preserve">80</text>
<text transform="translate(890,484) rotate(0.03) scale(0.9200,1)" xml:space="preserve">20</text>
<text transform="translate(891,504) rotate(0.03) scale(0.9200,1)" xml:space="preserve">0</text>
<text transform="translate(16.5,14) rotate(0.03) scale(0.9200,1)" xml:space="preserve">SPXUSDecn,H4</text>
<text transform="translate(89.2,14) rotate(0.03) scale(0.9200,1)" xml:space="preserve">4465.20 4469.20 4464.70 4467.40</text>
<text transform="translate(6,387) rotate(0.03) scale(0.9200,1)" xml:space="preserve">Stoch(5,3,3) 64.5132 48.4835</text>
<text transform="translate(1,520) rotate(0.03) scale(0.9200,1)" xml:space="preserve">19 Jul 2023</text>
<text transform="translate(65,520) rotate(0.03) scale(0.9200,1)" xml:space="preserve">20 Jul 16:00</text>
<text transform="translate(129,520) rotate(0.03) scale(0.9200,1)" xml:space="preserve">23 Jul 22:00</text>
<text transform="translate(193,520) rotate(0.03) scale(0.9200,1)" xml:space="preserve">25 Jul 04:00</text>
<text transform="translate(257,520) rotate(0.03) scale(0.9200,1)" xml:space="preserve">26 Jul 12:00</text>
<text transform="translate(321,520) rotate(0.03) scale(0.9200,1)" xml:space="preserve">27 Jul 20:00</text>
<text transform="translate(385,520) rotate(0.03) scale(0.9200,1)" xml:space="preserve">31 Jul 00:00</text>
<text transform="translate(449,520) rotate(0.03) scale(0.9706,1)" xml:space="preserve">1 Aug 08:00</text>
<text transform="translate(513,520) rotate(0.03) scale(0.9706,1)" xml:space="preserve">2 Aug 16:00</text>
<text transform="translate(577,520) rotate(0.03) scale(0.9706,1)" xml:space="preserve">4 Aug 00:00</text>
<text transform="translate(641,520) rotate(0.03) scale(0.9706,1)" xml:space="preserve">7 Aug 04:00</text>
<text transform="translate(705,520) rotate(0.03) scale(0.9706,1)" xml:space="preserve">8 Aug 12:00</text>
<text transform="translate(769,520) rotate(0.03) scale(0.9706,1)" xml:space="preserve">9 Aug 20:00</text>
<text transform="translate(833,520) rotate(0.03) scale(0.9706,1)" xml:space="preserve">11 Aug 04:00</text>
</svg></body></html>
